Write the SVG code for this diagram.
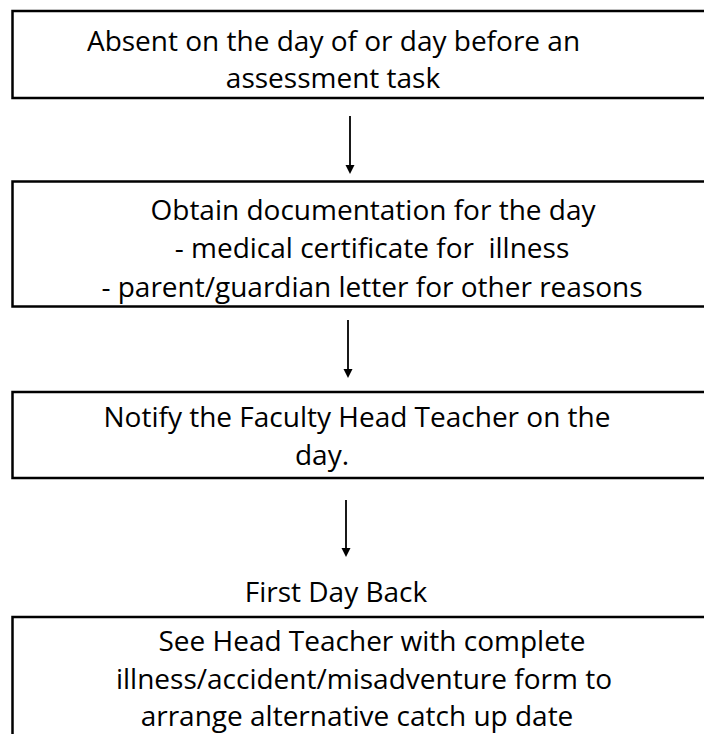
<svg xmlns="http://www.w3.org/2000/svg" width="704" height="734" viewBox="0 0 704 734">
<style>
.box{fill:#fff;stroke:#000;stroke-width:2.5}
.t{font-family:"Open Sans","Liberation Sans",sans-serif;font-size:28px;fill:#000;text-anchor:middle}
.ln{stroke:#000;stroke-width:1.8;fill:none}
.ah{fill:#000}
</style>
<rect width="704" height="734" fill="#fff"/>
<g id="n1">
<rect class="box" x="12.5" y="11" width="720" height="87"/>
<text class="t" x="333.5" y="51">Absent on the day of or day before an</text>
<text class="t" x="333" y="88">assessment task</text>
</g>
<g id="n2">
<rect class="box" x="12.5" y="181.5" width="720" height="125"/>
<text class="t" x="373" y="220">Obtain documentation for the day</text>
<text class="t" x="372" y="258" xml:space="preserve">- medical certificate for  illness</text>
<text class="t" x="372" y="297">- parent/guardian letter for other reasons</text>
</g>
<g id="n3">
<rect class="box" x="12.5" y="392" width="720" height="86"/>
<text class="t" x="357" y="427">Notify the Faculty Head Teacher on the</text>
<text class="t" x="322" y="465">day.</text>
</g>
<g id="n4">
<text class="t" x="336" y="602">First Day Back</text>
<rect class="box" x="12.5" y="617" width="720" height="140"/>
<text class="t" x="372" y="651">See Head Teacher with complete</text>
<text class="t" x="364" y="689">illness/accident/misadventure form to</text>
<text class="t" x="357" y="726">arrange alternative catch up date</text>
</g>
<g id="connectors">
<path class="ln" d="M350,116 L350,166"/>
<path class="ah" d="M345.5,165 L354.5,165 L350,174 Z"/>
<path class="ln" d="M348,320 L348,370"/>
<path class="ah" d="M343.5,369 L352.5,369 L348,378 Z"/>
<path class="ln" d="M346,500 L346,549"/>
<path class="ah" d="M341.5,548 L350.5,548 L346,557 Z"/>
</g>
</svg>
